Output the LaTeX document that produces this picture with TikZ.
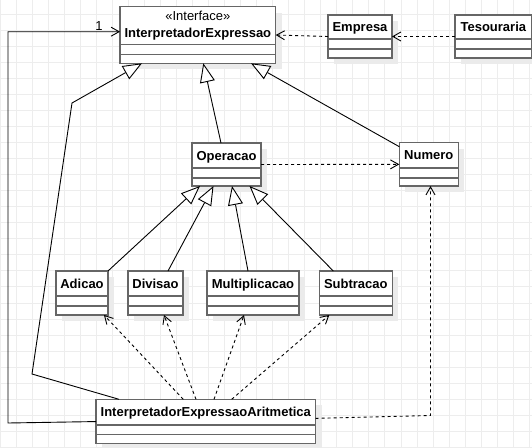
\documentclass[tikz,border=0pt]{standalone}
\usepackage{fontspec}
\setmainfont{Liberation Sans}
\usetikzlibrary{arrows.meta,calc}
\definecolor{boxc}{HTML}{666666}
\definecolor{gridc}{HTML}{EDEDED}
\definecolor{shadc}{HTML}{EBEBEB}
\tikzset{
  umlbox/.style={draw=boxc, line width=1.3pt, fill=white, inner sep=0pt, outer sep=0pt},
  divline/.style={draw=boxc, line width=1.3pt},
  shadowbox/.style={fill=shadc},
  cname/.style={font=\fontsize{13}{15}\selectfont\bfseries, inner sep=0pt, anchor=base},
  stereo/.style={font=\fontsize{13}{15}\selectfont, inner sep=0pt, anchor=base},
  conn/.style={draw=black, line width=0.9pt},
  gen/.style={conn, -{Triangle[open, length=19pt, width=15pt, fill=white]}},
  dep/.style={conn, dash pattern=on 3pt off 3pt, -{Straight Barb[length=8pt, width=9pt]}},
  assoc/.style={conn, -{Straight Barb[length=8pt, width=9pt]}},
}
\newcommand{\umlclass}[8]{%
  \fill[shadowbox] (#2+6,#3+6) rectangle (#4+6,#5+6);
  \node[umlbox, minimum width={#4-#2}, minimum height={#5-#3}] (#1) at ({(#2+#4)/2},{(#3+#5)/2}) {};
  \draw[divline] (#2,#6) -- (#4,#6) (#2,#7) -- (#4,#7);
  \node[cname] (#1-t) at ({(#2+#4)/2},{(#3+#6)/2+4.6}) {#8};
}
\begin{document}
\begin{tikzpicture}[x=1pt,y=-1pt]
\useasboundingbox (0,0) rectangle (532,447);
% grid
\foreach \i in {0,...,33} \draw[gridc, line width=1pt] (\i*16.04,0) -- (\i*16.04,447);
\foreach \j in {0,...,27} \draw[gridc, line width=1pt] (0,14.3+\j*16.04) -- (532,14.3+\j*16.04);

% interface class
\fill[shadowbox] (126,13) rectangle (282,69);
\node[umlbox, minimum width=155.7, minimum height=56.6] (ie) at (197.85,35) {};
\draw[divline] (120,44.3) -- (275.7,44.3) (120,54.3) -- (275.7,54.3);
\node[stereo] (ie-s) at (197.85,20.7) {«Interface»};
\node[cname] (ie-t) at (197.85,37.3) {InterpretadorExpressao};

\umlclass{emp}{328}{15}{392}{58}{39}{49}{Empresa}
\umlclass{tes}{455}{15}{531.7}{58}{39}{49}{Tesouraria}
\umlclass{op}{192}{143}{261}{186}{168}{178}{Operacao}
\umlclass{num}{399.3}{142.7}{458.3}{186}{168}{178}{Numero}
\umlclass{adi}{56}{271}{108}{315}{296}{306}{Adicao}
\umlclass{div}{128}{271}{183}{315}{296}{306}{Divisao}
\umlclass{mul}{207}{271}{299}{315}{296}{306}{Multiplicacao}
\umlclass{sub}{319.3}{271}{392.3}{315}{296}{306}{Subtracao}
\umlclass{iea}{96}{399.3}{315.6}{443.8}{425.1}{434.3}{InterpretadorExpressaoAritmetica}

% waypoints
\coordinate (w1) at (32,374);
\coordinate (w2) at (72,103);
\coordinate (a1) at (8,423);
\coordinate (a2) at (8,31.7);
\coordinate (n1) at (430.5,415.5);

% dependencies top
\draw[dep] (tes.west) -- (emp.east);
\draw[dep] (emp.west) -- (ie.east);
\draw[dep] (op.east) -- (num.west);

% generalizations to interface
\draw[gen] ($(op.north west)+(29,0)$) -- ($(ie.south west)+(83.3,0)$);
\draw[gen] ($(num.north west)+(0,4)$) -- ($(ie.south west)+(131,0)$);
\draw[gen] ($(iea.north west)+(23,0)$) -- (w1) -- (w2) -- ($(ie.south west)+(22,0)$);

% association
\draw[assoc] (iea.west) -- (a1) -- (a2) -- (a2 -| ie.west);
\node[stereo] (m1) at (99,30.3) {1};

% generalizations to Operacao
\draw[gen] (adi.north east) -- ($(op.south west)+(8,0)$);
\draw[gen] ($(div.north west)+(40,0)$) -- ($(op.south west)+(21.5,0)$);
\draw[gen] ($(mul.north west)+(41,0)$) -- ($(op.south west)+(40,0)$);
\draw[gen] ($(sub.north west)+(14,0)$) -- ($(op.south west)+(57.5,0)$);

% dependencies from IEA
\draw[dep] ($(iea.north west)+(87.3,0)$) -- ($(adi.south west)+(48,0)$);
\draw[dep] ($(iea.north west)+(100,0)$) -- ($(div.south west)+(36,0)$);
\draw[dep] ($(iea.north west)+(118,0)$) -- ($(mul.south west)+(37,0)$);
\draw[dep] ($(iea.north west)+(135.7,0)$) -- ($(sub.south west)+(10,0)$);
\draw[dep] ($(iea.east)+(0,-3.2)$) -- (n1) -- (n1 |- num.south);
\end{tikzpicture}
\end{document}
